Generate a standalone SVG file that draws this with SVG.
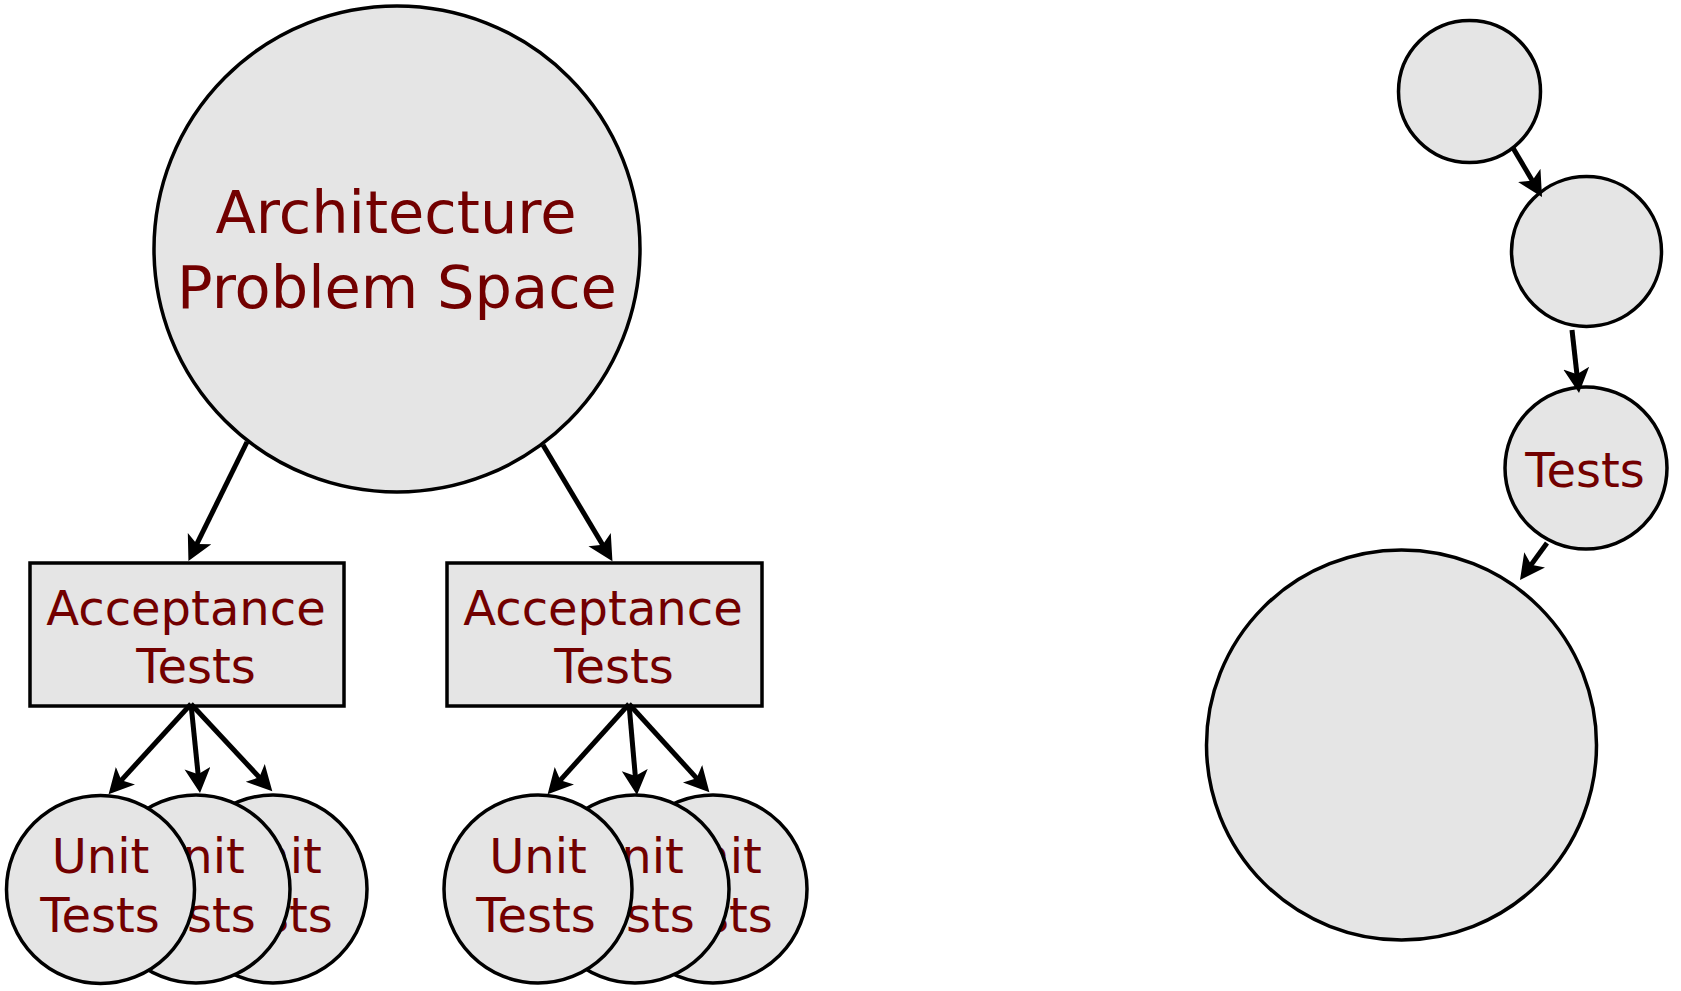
<svg xmlns="http://www.w3.org/2000/svg" width="1681" height="991" viewBox="0 0 1681 991">
<style>
.n{fill:#e5e5e5;stroke:#000;stroke-width:3.5}
.t{font-family:"DejaVu Sans",sans-serif;font-size:48px;fill:#720000;text-anchor:middle}
.big{font-size:59px}
.c{stroke:#000;stroke-width:5;fill:none;marker-end:url(#ah)}
</style>
<defs>
<marker id="ah" markerUnits="userSpaceOnUse" markerWidth="28" markerHeight="28" refX="14" refY="13" orient="auto" viewBox="0 0 28 28">
<path d="M0,0 L25,13 L0,26 L6,13 Z" fill="#000"/>
</marker>
</defs>
<rect width="1681" height="991" fill="#fff"/>
<g id="architecture">
<circle class="n" cx="397" cy="249" r="243"/>
<text class="t big" x="396" y="233">Architecture</text>
<text class="t big" x="397" y="308">Problem Space</text>
</g>
<g id="acceptance1">
<rect class="n" x="30" y="563" width="314" height="143"/>
<text class="t" x="186" y="625">Acceptance</text>
<text class="t" x="196" y="683">Tests</text>
</g>
<g id="acceptance2">
<rect class="n" x="447" y="563" width="315" height="143"/>
<text class="t" x="603" y="625">Acceptance</text>
<text class="t" x="614" y="683">Tests</text>
</g>
<g id="unit1c">
<circle class="n" cx="273" cy="889" r="94"/>
<text class="t" x="273" y="873">Unit</text>
<text class="t" x="273" y="932">Tests</text>
</g>
<g id="unit1b">
<circle class="n" cx="196" cy="889" r="94"/>
<text class="t" x="196" y="873">Unit</text>
<text class="t" x="196" y="932">Tests</text>
</g>
<g id="unit1a">
<circle class="n" cx="100.5" cy="889.5" r="94"/>
<text class="t" x="100.5" y="873">Unit</text>
<text class="t" x="100" y="932">Tests</text>
</g>
<g id="unit2c">
<circle class="n" cx="713" cy="889" r="94"/>
<text class="t" x="713" y="873">Unit</text>
<text class="t" x="713" y="932">Tests</text>
</g>
<g id="unit2b">
<circle class="n" cx="635" cy="889" r="94"/>
<text class="t" x="635" y="873">Unit</text>
<text class="t" x="635" y="932">Tests</text>
</g>
<g id="unit2a">
<circle class="n" cx="538" cy="889" r="94"/>
<text class="t" x="538" y="873">Unit</text>
<text class="t" x="536" y="932">Tests</text>
</g>
<g id="r1">
<circle class="n" cx="1469.5" cy="91.5" r="71"/>
</g>
<g id="r2">
<circle class="n" cx="1586.5" cy="251.5" r="75"/>
</g>
<g id="r3">
<circle class="n" cx="1586" cy="468" r="81"/>
<text class="t" x="1585" y="487">Tests</text>
</g>
<g id="r4">
<circle class="n" cx="1401.5" cy="745" r="195"/>
</g>
<g id="connectors">
<line class="c" x1="247" y1="442" x2="193.3" y2="551.2"/>
<line class="c" x1="543" y1="445" x2="606.8" y2="551.7"/>
<line class="c" x1="191" y1="704" x2="116" y2="786.1"/>
<line class="c" x1="191" y1="704" x2="198.9" y2="782.1"/>
<line class="c" x1="191" y1="704" x2="264.8" y2="783.2"/>
<line class="c" x1="629" y1="704" x2="555" y2="786.1"/>
<line class="c" x1="629" y1="704" x2="636" y2="784"/>
<line class="c" x1="629" y1="704" x2="702" y2="784.1"/>
<line class="c" x1="1513" y1="148" x2="1536.4" y2="187.5"/>
<line class="c" x1="1572" y1="330" x2="1577.8" y2="382.1"/>
<line class="c" x1="1547" y1="543" x2="1526.5" y2="571.1"/>
</g>
</svg>
